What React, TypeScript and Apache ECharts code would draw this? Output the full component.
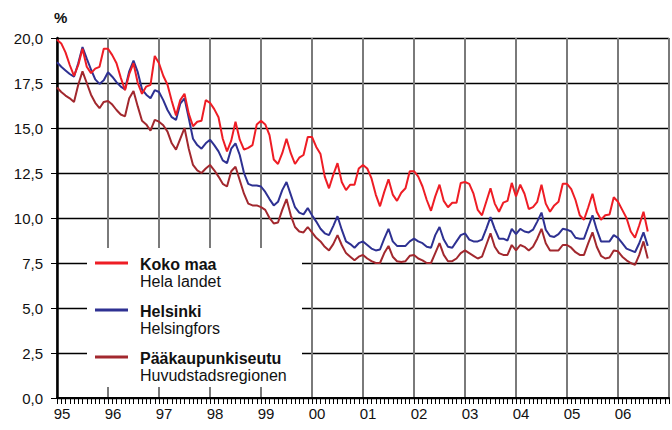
import React, { useEffect, useRef } from 'react';
import * as echarts from 'echarts';

// Monthly unemployment rate (%), Jan 1995 – Aug 2006
const yearLabels = ['95', '96', '97', '98', '99', '00', '01', '02', '03', '04', '05', '06'];

const kokoMaa = [
  19.9, 19.7, 19.2, 18.5, 17.9, 18.5, 19.4, 18.4, 18.05, 18.3, 18.4, 19.4,
  19.4, 19.05, 18.6, 17.8, 17.1, 18.0, 18.6, 17.5, 16.9, 17.3, 17.4, 19.0,
  18.6, 17.9, 17.4, 16.5, 15.7, 16.55, 16.9, 15.8, 15.1, 15.35, 15.4, 16.55,
  16.4, 16.05, 15.6, 14.4, 13.7, 14.3, 15.35, 14.35, 13.8, 13.9, 14.05, 15.2,
  15.4, 15.2, 14.6, 13.25, 13.0, 13.6, 14.4, 13.6, 13.0, 13.35, 13.5, 14.5,
  14.5, 13.95, 13.55, 12.3, 11.65, 12.4, 13.05, 12.0, 11.55, 11.85, 11.85, 12.75,
  12.95, 12.75, 12.2, 11.3, 10.65, 11.45, 12.15, 11.3, 10.95, 11.4, 11.65, 12.6,
  12.6, 12.3, 11.75, 11.0, 10.4, 11.2, 11.85, 10.95, 10.6, 10.85, 10.85, 11.95,
  12.0, 11.9, 11.35, 10.45, 10.15, 10.9, 11.65, 10.8, 10.35, 10.85, 10.95, 11.95,
  11.2, 11.85, 11.35, 10.5, 10.6, 10.9, 11.85, 10.8, 10.35, 10.7, 10.9, 11.9,
  11.9, 11.6, 11.0, 10.15, 9.9, 10.6, 11.35, 10.35, 9.9, 10.15, 10.2, 11.15,
  10.9, 10.45, 10.0, 9.25, 8.9, 9.6, 10.35, 9.25,
];

const helsinki = [
  18.65, 18.4, 18.2, 18.0, 17.85, 18.6, 19.5, 18.85, 18.25, 17.7, 17.45, 17.65,
  18.1, 17.85, 17.55, 17.3, 17.15, 18.15, 18.75, 18.1, 17.15, 16.85, 16.65, 17.1,
  17.0, 16.55, 16.0, 15.6, 15.45, 16.35, 16.65, 15.55, 14.4, 14.05, 13.85, 14.15,
  14.35, 14.05, 13.7, 13.2, 13.05, 13.85, 14.15, 13.5, 12.5, 11.9, 11.8, 11.8,
  11.75, 11.45, 11.05, 10.7, 10.9, 11.55, 12.0, 11.3, 10.6, 10.3, 10.2, 10.55,
  10.15, 9.8, 9.4, 9.15, 9.05, 9.55, 10.1, 9.35, 8.7, 8.55, 8.35, 8.6,
  8.7, 8.5, 8.3, 8.2, 8.25, 8.85, 9.4, 8.7, 8.45, 8.45, 8.45, 8.7,
  8.85, 8.7, 8.6, 8.4, 8.35, 9.05, 9.5, 8.8, 8.4, 8.35, 8.7, 9.05,
  9.15, 8.8, 8.7, 8.7, 8.8, 9.4, 10.05, 9.4, 8.85, 8.85, 8.75, 9.4,
  9.1, 9.4, 9.25, 9.2, 9.35, 9.8, 10.3, 9.35, 9.0, 8.95, 9.1, 9.4,
  9.35, 9.25, 8.9, 8.85, 8.85, 9.5, 10.15, 9.35, 8.7, 8.7, 8.7, 9.05,
  8.9, 8.6, 8.3, 8.2, 8.1, 8.6, 9.2, 8.45,
];

const paakaupunkiseutu = [
  17.25, 17.0, 16.8, 16.65, 16.45, 17.4, 18.15, 17.5, 16.85, 16.4, 16.1, 16.45,
  16.5, 16.3, 16.0, 15.75, 15.65, 16.65, 17.05, 16.2, 15.4, 15.2, 14.85, 15.45,
  15.35, 15.15, 14.8, 14.15, 13.8, 14.4, 15.0, 13.85, 12.95, 12.65, 12.5, 12.75,
  12.95, 12.65, 12.3, 11.9, 11.75, 12.6, 12.85, 12.1, 11.35, 10.8, 10.7, 10.7,
  10.6, 10.45, 10.0, 9.7, 9.75, 10.45, 11.05, 10.15, 9.5, 9.25, 9.2, 9.5,
  9.2, 8.9, 8.7, 8.4, 8.2, 8.55, 9.05, 8.5, 8.05, 7.85, 7.65, 7.85,
  7.95, 7.75, 7.6, 7.5, 7.5, 8.05, 8.45, 7.85, 7.6, 7.55, 7.6, 7.9,
  7.95, 7.75, 7.65, 7.5, 7.5, 8.05, 8.6, 7.95, 7.6, 7.6, 7.75, 8.05,
  8.2, 8.05, 7.9, 7.75, 7.85, 8.5, 9.15, 8.4, 8.05, 7.95, 7.95, 8.5,
  8.2, 8.5, 8.4, 8.2, 8.4, 8.85, 9.4, 8.6, 8.2, 8.2, 8.2, 8.5,
  8.5, 8.35, 8.1, 7.95, 7.95, 8.6, 9.2, 8.4, 7.9, 7.75, 7.8, 8.2,
  8.15, 7.85, 7.65, 7.5, 7.4, 7.95, 8.7, 7.75,
];

const seriesFi = ['Koko maa', 'Helsinki', 'Pääkaupunkiseutu'];
const seriesSv = ['Hela landet', 'Helsingfors', 'Huvudstadsregionen'];
const seriesColors = ['#ee1d25', '#2e3192', '#a2282e'];

const FONT = '"Liberation Sans", Arial, Helvetica, sans-serif';

export default function App() {
  const ref = useRef<HTMLDivElement>(null);

  useEffect(() => {
    document.body.style.margin = '0';
    const chart = echarts.init(ref.current!, null, { renderer: 'svg' });

    const toPoints = (arr: number[]) => arr.map((v, i) => [i, v]);
    const allSeries = [kokoMaa, helsinki, paakaupunkiseutu];

    const legendTop = 263;
    const legendStep = 47;
    const legendGraphics: any[] = [
      {
        type: 'rect',
        shape: { x: 87, y: 248, width: 215, height: 139 },
        style: { fill: '#ffffff' },
        z: 100,
      },
    ];
    seriesFi.forEach((name, k) => {
      const y = legendTop + k * legendStep;
      legendGraphics.push({
        type: 'line',
        shape: { x1: 95, y1: y, x2: 128, y2: y },
        style: { stroke: seriesColors[k], lineWidth: 3 },
        z: 101,
      });
      legendGraphics.push({
        type: 'text',
        style: {
          x: 140,
          y: y + 1,
          text: name,
          font: `bold 16px ${FONT}`,
          fill: '#111',
          verticalAlign: 'middle',
        },
        z: 101,
      });
      legendGraphics.push({
        type: 'text',
        style: {
          x: 140,
          y: y + 18,
          text: seriesSv[k],
          font: `16px ${FONT}`,
          fill: '#111',
          verticalAlign: 'middle',
        },
        z: 101,
      });
    });

    chart.setOption({
      animation: false,
      backgroundColor: '#ffffff',
      textStyle: { fontFamily: FONT },
      grid: { left: 57, top: 38, width: 623, height: 360, show: false },
      xAxis: {
        type: 'value',
        min: 0,
        max: 144,
        interval: 12,
        axisLine: { show: true, onZero: false, lineStyle: { color: '#000', width: 2 } },
        axisTick: { show: true, length: 6, lineStyle: { color: '#000', width: 1 } },
        minorTick: { show: true, splitNumber: 12, length: 6, lineStyle: { color: '#000', width: 1 } },
        splitLine: { show: true, lineStyle: { color: '#7a7a7a', width: 2 } },
        axisLabel: {
          fontSize: 15,
          color: '#111',
          margin: 8,
          padding: [0, 0, 0, 10],
          formatter: (v: number) => {
            const k = Math.round(v / 12);
            return k < yearLabels.length ? yearLabels[k] : '';
          },
        },
      },
      yAxis: {
        type: 'value',
        min: 0,
        max: 20,
        interval: 2.5,
        axisLine: { show: true, lineStyle: { color: '#000', width: 2.5 } },
        axisTick: { show: true, length: 6, lineStyle: { color: '#000', width: 1 } },
        splitLine: { show: true, lineStyle: { color: '#000', width: 1.3 } },
        axisLabel: {
          fontSize: 15,
          color: '#111',
          margin: 14,
          formatter: (v: number) => v.toFixed(1).replace('.', ','),
        },
      },
      graphic: [
        {
          type: 'text',
          style: { x: 54, y: 10, text: '%', font: `bold 15px ${FONT}`, fill: '#111' },
        },
        ...legendGraphics,
      ],
      series: allSeries.map((arr, k) => ({
        type: 'line',
        name: seriesFi[k],
        data: toPoints(arr),
        showSymbol: false,
        symbol: 'none',
        lineStyle: { color: seriesColors[k], width: 2 },
        itemStyle: { color: seriesColors[k] },
        z: 10 - k,
      })),
    });

    return () => chart.dispose();
  }, []);

  return <div ref={ref} style={{ width: 672, height: 430 }} />;
}
